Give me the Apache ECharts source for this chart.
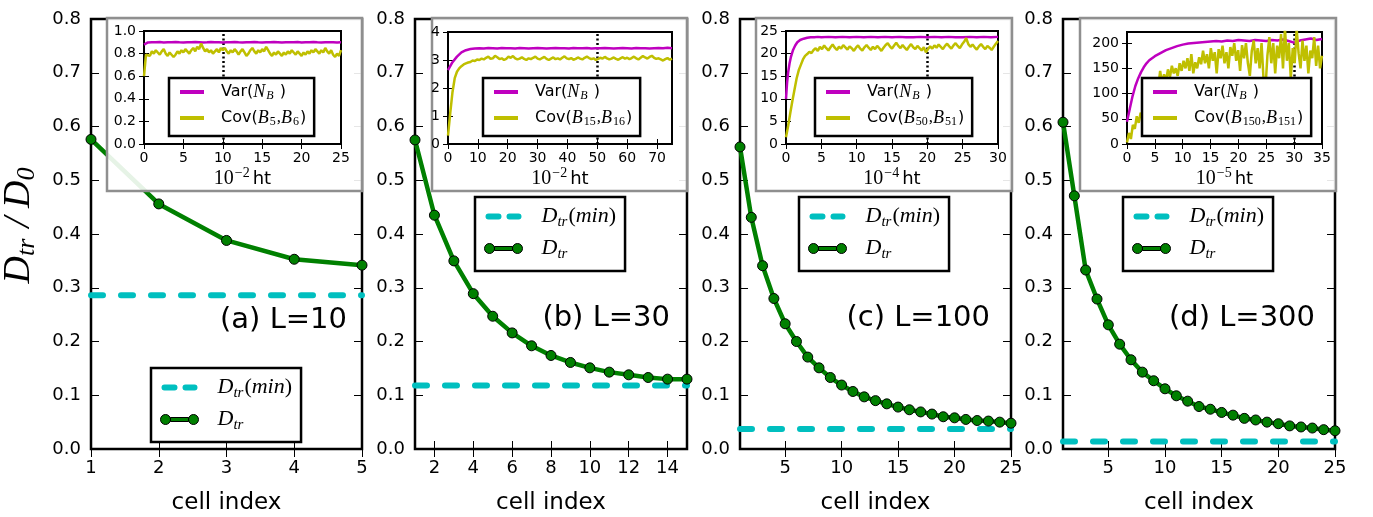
<!DOCTYPE html>
<html>
<head>
<meta charset="utf-8">
<script src="https://cdn.jsdelivr.net/npm/echarts@6/dist/echarts.min.js"></script>
<style>
  html, body { margin: 0; padding: 0; background: #fff; }
  #chart { width: 1373px; height: 517px; }
</style>
</head>
<body>
<div id="chart"></div>
<script>
// ---------- data: transport coefficient per cell ----------
const panelTags = ['(a) L=10', '(b) L=30', '(c) L=100', '(d) L=300'];
const dtrA = [0.576, 0.456, 0.388, 0.353, 0.342];
const dtrB = [0.575, 0.435, 0.350, 0.289, 0.247, 0.216, 0.192, 0.174, 0.161, 0.151, 0.143, 0.138, 0.133, 0.130, 0.130];
const dtrC = [0.562, 0.431, 0.341, 0.280, 0.233, 0.200, 0.171, 0.151, 0.133, 0.119, 0.107, 0.097, 0.090, 0.084, 0.078,
              0.073, 0.069, 0.065, 0.060, 0.058, 0.055, 0.053, 0.052, 0.050, 0.048];
const dtrD = [0.608, 0.471, 0.333, 0.279, 0.231, 0.195, 0.166, 0.143, 0.127, 0.112, 0.099, 0.089, 0.079, 0.074, 0.068,
              0.063, 0.057, 0.054, 0.050, 0.047, 0.043, 0.041, 0.039, 0.036, 0.034];
const dtrMin = [0.286, 0.118, 0.037, 0.014];
const cellMax = [5, 15, 25, 25];
const cellTicks = [[1, 2, 3, 4, 5], [2, 4, 6, 8, 10, 12, 14], [5, 10, 15, 20, 25], [5, 10, 15, 20, 25]];
const dTicks = [0, 0.1, 0.2, 0.3, 0.4, 0.5, 0.6, 0.7, 0.8];

// ---------- data: inset time series ----------
const timeMax = [25, 75, 30, 35];
const timeTicks = [[0, 5, 10, 15, 20, 25], [0, 10, 20, 30, 40, 50, 60, 70], [0, 5, 10, 15, 20, 25, 30], [0, 5, 10, 15, 20, 25, 30, 35]];
const timeExp = ['\u22122', '\u22122', '\u22124', '\u22125'];
const insetMax = [1.0, 4, 25, 222];
const insetTicks = [[0, 0.2, 0.4, 0.6, 0.8, 1.0], [0, 1, 2, 3, 4], [0, 5, 10, 15, 20, 25], [0, 50, 100, 150, 200]];
const markTime = [10, 50, 20, 30];
const covNames = ['Cov(B_5,B_6)', 'Cov(B_15,B_16)', 'Cov(B_50,B_51)', 'Cov(B_150,B_151)'];

// Var(N_B), panel a: sampled every 0.5
const varStepA = 0.5;
const varA = [0.880, 0.899, 0.901, 0.900, 0.902, 0.899, 0.901, 0.900, 0.902, 0.900,
              0.899, 0.901, 0.900, 0.902, 0.901, 0.899, 0.900, 0.902, 0.900, 0.901,
              0.899, 0.900, 0.901, 0.902, 0.900, 0.899, 0.901, 0.900, 0.902, 0.900,
              0.899, 0.901, 0.900, 0.902, 0.901, 0.899, 0.900, 0.901, 0.900, 0.902,
              0.899, 0.901, 0.900, 0.902, 0.900, 0.899, 0.901, 0.900, 0.901, 0.899,
              0.900];
// Cov, panel a: sampled every 0.25
const covStepA = 0.25;
const covA = [0.60, 0.79, 0.80, 0.78, 0.82, 0.80, 0.83, 0.81, 0.79, 0.82,
              0.84, 0.80, 0.78, 0.81, 0.80, 0.77, 0.79, 0.82, 0.80, 0.83,
              0.81, 0.84, 0.82, 0.80, 0.83, 0.85, 0.82, 0.86, 0.84, 0.89,
              0.85, 0.82, 0.84, 0.81, 0.83, 0.80, 0.82, 0.84, 0.81, 0.85,
              0.83, 0.85, 0.82, 0.80, 0.83, 0.81, 0.84, 0.82, 0.79, 0.82,
              0.84, 0.81, 0.78, 0.80, 0.83, 0.85, 0.82, 0.80, 0.83, 0.81,
              0.84, 0.82, 0.86, 0.83, 0.80, 0.78, 0.81, 0.79, 0.82, 0.80,
              0.78, 0.81, 0.79, 0.82, 0.80, 0.83, 0.81, 0.79, 0.82, 0.80,
              0.78, 0.81, 0.79, 0.82, 0.80, 0.83, 0.81, 0.84, 0.82, 0.80,
              0.83, 0.81, 0.85, 0.82, 0.80, 0.83, 0.79, 0.77, 0.80, 0.78,
              0.83];

// panel b
const varStepB = 1.5;
const varB = [2.64, 2.92, 3.12, 3.27, 3.35, 3.39, 3.41, 3.42, 3.41, 3.43,
              3.42, 3.41, 3.43, 3.42, 3.42, 3.41, 3.43, 3.42, 3.41, 3.42,
              3.43, 3.42, 3.41, 3.42, 3.43, 3.42, 3.42, 3.41, 3.43, 3.42,
              3.42, 3.43, 3.41, 3.42, 3.42, 3.43, 3.42, 3.41, 3.42, 3.43,
              3.42, 3.41, 3.43, 3.42, 3.42, 3.41, 3.42, 3.43, 3.42, 3.44,
              3.42];
const covStepB = 0.75;
const covB = [0.30, 1.10, 1.85, 2.35, 2.58, 2.70, 2.78, 2.84, 2.88, 2.91,
              2.93, 2.98, 2.96, 3.02, 3.00, 3.05, 3.02, 3.08, 3.12, 3.04,
              3.06, 3.15, 3.10, 3.03, 3.06, 3.00, 3.04, 3.12, 3.08, 3.14,
              3.06, 3.02, 3.05, 3.10, 3.04, 3.00, 3.06, 3.03, 3.08, 3.12,
              3.05, 3.02, 3.07, 3.11, 3.04, 3.00, 3.05, 3.09, 3.03, 3.06,
              3.02, 3.08, 3.13, 3.06, 3.03, 3.07, 3.01, 3.04, 3.09, 3.05,
              3.02, 3.08, 3.12, 3.07, 3.03, 3.06, 3.00, 3.04, 3.08, 3.05,
              3.11, 3.06, 3.02, 3.05, 3.09, 3.04, 3.01, 3.06, 3.10, 3.05,
              3.08, 3.03, 3.07, 3.12, 3.06, 3.02, 3.08, 3.14, 3.09, 3.05,
              3.11, 3.15, 3.08, 3.04, 3.06, 3.02, 2.98, 3.03, 3.07, 3.01,
              3.05];

// panel c
const varTimeC = [0, 0.15, 0.3, 0.5, 0.7, 1.0, 1.3, 1.6, 2.0, 2.5, 3, 3.5, 4, 4.5, 5,
                  6, 7, 8, 9, 10, 11, 12, 13, 14, 15, 16, 17, 18, 19, 20, 21, 22, 23, 24, 25, 26, 27, 28, 29, 30];
const varC = [10, 13.5, 15.8, 17.8, 19.3, 20.8, 21.8, 22.5, 23.0, 23.3, 23.5, 23.6, 23.6, 23.7, 23.6,
              23.7, 23.6, 23.7, 23.6, 23.7, 23.6, 23.7, 23.6, 23.7, 23.6, 23.7, 23.6, 23.6, 23.7, 23.6,
              23.7, 23.6, 23.7, 23.6, 23.6, 23.7, 23.6, 23.7, 23.6, 23.7];
const covStepC = 0.3;
const covC = [1.5, 4.0, 6.8, 9.5, 12.0, 14.5, 16.3, 17.5, 18.7, 19.5,
              19.9, 20.4, 20.1, 20.8, 21.2, 20.6, 21.5, 21.0, 21.8, 21.2,
              20.7, 21.4, 22.0, 21.3, 20.8, 21.5, 21.1, 21.9, 21.4, 20.9,
              21.6, 21.2, 20.6, 21.3, 21.8, 21.1, 20.7, 21.4, 21.9, 21.3,
              20.8, 21.5, 21.0, 21.7, 21.2, 20.6, 21.3, 21.9, 22.3, 21.6,
              21.1, 21.8, 22.4, 21.7, 21.2, 21.9, 21.3, 20.8, 21.5, 22.1,
              21.4, 21.0, 21.7, 21.2, 20.7, 21.4, 20.3, 21.0, 21.6, 21.1,
              21.8, 21.3, 22.0, 21.5, 21.0, 21.7, 22.2, 21.6, 21.1, 21.8,
              22.3, 21.7, 21.2, 22.0, 22.6, 23.4, 22.1, 21.5, 22.0, 21.4,
              20.9, 21.6, 22.1, 21.5, 21.0, 21.7, 21.3, 20.8, 21.5, 22.2,
              22.8];

// panel d
const varTimeD = [0, 0.5, 1, 1.5, 2, 2.5, 3, 3.5, 4,
                  5, 6, 7, 8, 9, 10, 11, 12, 13, 14, 15, 16, 17, 18, 19, 20,
                  21, 22, 23, 24, 25, 26, 27, 28, 29, 30, 31, 32, 33, 34, 35];
const varD = [44, 70, 95, 115, 130, 142, 152, 160, 166,
              174, 180, 186, 190, 194, 197, 199, 200, 201, 202, 203, 204, 203, 205, 204, 206,
              205, 204, 206, 205, 204, 206, 205, 207, 204, 201, 205, 207, 209, 206, 208];
const covStepD = 0.35;
const covD = [3, 22, 10, 38, 30, 55, 42, 62, 50, 75,
              68, 95, 82, 110, 98, 130, 112, 145, 120, 138,
              125, 148, 132, 155, 140, 150, 135, 160, 145, 165,
              150, 170, 145, 178, 140, 162, 150, 172, 158, 185,
              160, 178, 150, 190, 165, 182, 140, 188, 170, 195,
              160, 182, 150, 192, 175, 200, 165, 186, 145, 196,
              170, 200, 160, 135, 185, 205, 160, 190, 150, 200,
              130, 110, 175, 212, 160, 200, 140, 195, 170, 218,
              150, 230, 165, 200, 130, 190, 160, 228, 180, 150,
              205, 165, 195, 140, 185, 170, 212, 155, 195, 150,
              175];

// ---------- layout ----------
const mainTop = 19, mainHeight = 430;
const mainLeft = [91, 415, 740, 1063];
const mainWidth = [271, 272, 271, 272];
const insetRect = [[144, 31, 197, 113], [448, 32, 224, 112], [786, 31, 212, 113], [1127, 32, 195, 112]];
const boxRect = [[107, 18, 255, 173], [432, 18, 255, 173], [756, 18, 256, 173], [1080, 18, 256, 173]];
const mainLegendPos = [[151, 368], [475, 197], [799, 197], [1123, 197]];
const insetLegendPos = [[169, 78], [483, 78], [815, 78], [1142, 78]];
const tagPos = [[347, 320], [670, 318], [990, 318], [1315, 318]];

const GREEN = '#008000', CYAN = '#00bfbf', MAGENTA = '#bf00bf', YELLOW = '#bfbf00';
const SERIF = 'Liberation Serif', SANS = 'DejaVu Sans';

const dtrAll = [dtrA, dtrB, dtrC, dtrD];
const varPts = [
  varA.map((v, i) => [i * varStepA, v]),
  varB.map((v, i) => [i * varStepB, v]),
  varC.map((v, i) => [varTimeC[i], v]),
  varD.map((v, i) => [varTimeD[i], v])
];
const covPts = [
  covA.map((v, i) => [i * covStepA, v]),
  covB.map((v, i) => [i * covStepB, v]),
  covC.map((v, i) => [i * covStepC, v]),
  covD.map((v, i) => [i * covStepD, v])
];

// rich-text versions of the legend entries
const mathRich = {
  sp: { width: 12 },
  t: { fontFamily: SANS, fontSize: 16, lineHeight: 20, color: '#000' },
  mi: { fontFamily: SERIF, fontStyle: 'italic', fontSize: 18, lineHeight: 20, color: '#000' },
  sb: { fontFamily: SERIF, fontStyle: 'italic', fontSize: 12, lineHeight: 12, padding: [8, 1, 0, 1], color: '#000' },
  sn: { fontFamily: SERIF, fontSize: 12, lineHeight: 12, padding: [8, 1, 0, 1], color: '#000' },
  cm: { fontFamily: SERIF, fontSize: 17, lineHeight: 20, color: '#000' },
  big: { fontFamily: SERIF, fontStyle: 'italic', fontSize: 22, lineHeight: 26, color: '#000' },
  bsub: { fontFamily: SERIF, fontStyle: 'italic', fontSize: 15, lineHeight: 14, padding: [12, 1, 0, 0], color: '#000' },
  bup: { fontFamily: SERIF, fontSize: 22, lineHeight: 26, color: '#000' },
  sp2: { width: 14 }
};
function covLabel(name) {
  const m = name.match(/Cov\(B_(\d+),B_(\d+)\)/);
  return '{sp| }{t|Cov(}{mi|B}{sn|' + m[1] + '}{cm|,}{mi|B}{sn|' + m[2] + '}{t|)}';
}
function legendText(name) {
  if (name === 'Var(N_B)') return '{sp| }{t|Var(}{mi|N}{sb|B}{t| )}';
  if (name.indexOf('Cov') === 0) return covLabel(name);
  if (name === 'D_tr(min)') return '{sp2| }{big|D}{bsub|tr}{bup|(}{big|min}{bup|)}';
  if (name === 'D_tr') return '{sp2| }{big|D}{bsub|tr}';
  return name;
}

const dashIcon = 'path://M0,0L0.5,0L0.5,0.01Z M38,10L37.5,10L37.5,9.99Z ' +
  'M4,2h10a3,3 0 0 1 0,6h-10a3,3 0 0 1 0,-6z M25,2h9a3,3 0 0 1 0,6h-9a3,3 0 0 1 0,-6z';
const dotIcon = 'path://M0,5a5,5 0 1 0 10,0a5,5 0 1 0 -10,0z M28,5a5,5 0 1 0 10,0a5,5 0 1 0 -10,0z M10,3h18v4h-18z';

const grids = [], xAxes = [], yAxes = [], series = [], legends = [], graphics = [];

for (let p = 0; p < 4; p++) {
  // main panel
  grids.push({ left: mainLeft[p], top: mainTop, width: mainWidth[p], height: mainHeight,
    outerBoundsMode: 'none', containLabel: false,
    show: true, borderColor: '#000', borderWidth: 2.5, backgroundColor: 'transparent', z: 0 });
  // inset panel
  const r = insetRect[p];
  grids.push({ left: r[0], top: r[1], width: r[2], height: r[3],
    outerBoundsMode: 'none', containLabel: false,
    show: true, borderColor: '#000', borderWidth: 2, backgroundColor: 'transparent', z: 6 });

  const gm = 2 * p, gi = 2 * p + 1;
  const mainTick = { show: true, inside: true, length: 8, lineStyle: { color: '#000', width: 1 } };
  const insetTick = { show: true, inside: true, length: 5, lineStyle: { color: '#000', width: 1 } };

  // main x (bottom, top)
  xAxes.push({ type: 'value', gridIndex: gm, min: 1, max: cellMax[p], position: 'bottom',
    axisLine: { show: false }, splitLine: { show: false },
    axisTick: Object.assign({ customValues: cellTicks[p] }, mainTick),
    axisLabel: { customValues: cellTicks[p], fontSize: 18, color: '#000', margin: 10, fontFamily: SANS },
    name: 'cell index', nameLocation: 'middle', nameGap: 43,
    nameTextStyle: { fontSize: 23, color: '#000', fontFamily: SANS } });
  xAxes.push({ type: 'value', gridIndex: gm, min: 1, max: cellMax[p], position: 'top',
    axisLine: { show: false }, splitLine: { show: false },
    axisTick: Object.assign({ customValues: cellTicks[p] }, mainTick),
    axisLabel: { show: false } });
  // inset x (bottom, top)
  xAxes.push({ type: 'value', gridIndex: gi, min: 0, max: timeMax[p], position: 'bottom', z: 6,
    axisLine: { show: false }, splitLine: { show: false },
    axisTick: Object.assign({ customValues: timeTicks[p] }, insetTick),
    axisLabel: { customValues: timeTicks[p], fontSize: 14, color: '#000', margin: 7, fontFamily: SANS },
    name: '{m|10}{sup|' + timeExp[p] + '}{t|ht}', nameLocation: 'middle', nameGap: 24,
    nameTextStyle: { rich: {
      m: { fontFamily: SERIF, fontSize: 20, lineHeight: 22, color: '#000' },
      sup: { fontFamily: SERIF, fontSize: 14, lineHeight: 13, padding: [0, 3, 11, 1], color: '#000' },
      t: { fontFamily: SANS, fontSize: 18, lineHeight: 22, color: '#000' } } } });
  xAxes.push({ type: 'value', gridIndex: gi, min: 0, max: timeMax[p], position: 'top', z: 6,
    axisLine: { show: false }, splitLine: { show: false },
    axisTick: Object.assign({ customValues: timeTicks[p] }, insetTick),
    axisLabel: { show: false } });

  // main y (left, right)
  const yMain = { type: 'value', gridIndex: gm, min: 0, max: 0.8, position: 'left',
    axisLine: { show: false }, splitLine: { show: false },
    axisTick: Object.assign({ customValues: dTicks }, mainTick),
    axisLabel: { customValues: dTicks, fontSize: 18, color: '#000', margin: 10, fontFamily: SANS,
      formatter: v => v.toFixed(1) } };
  if (p === 0) {
    yMain.name = '{g| }{d|D}{s|tr}{sl|/}{d|D}{s|0}';
    yMain.nameLocation = 'middle';
    yMain.nameRotate = 90;
    yMain.nameGap = 52;
    yMain.nameTextStyle = { rich: {
      g: { width: 22 },
      d: { fontFamily: SERIF, fontStyle: 'italic', fontSize: 38, lineHeight: 40, color: '#000' },
      s: { fontFamily: SERIF, fontStyle: 'italic', fontSize: 26, lineHeight: 24, padding: [17, 5, 0, 0], color: '#000' },
      sl: { fontFamily: SERIF, fontStyle: 'italic', fontSize: 38, lineHeight: 40, padding: [0, 9, 0, 6], color: '#000' } } };
  }
  yAxes.push(yMain);
  yAxes.push({ type: 'value', gridIndex: gm, min: 0, max: 0.8, position: 'right',
    axisLine: { show: false }, splitLine: { show: false },
    axisTick: Object.assign({ customValues: dTicks }, mainTick),
    axisLabel: { show: false } });
  // inset y (left, right)
  yAxes.push({ type: 'value', gridIndex: gi, min: 0, max: insetMax[p], position: 'left', z: 6,
    axisLine: { show: false }, splitLine: { show: false },
    axisTick: Object.assign({ customValues: insetTicks[p] }, insetTick),
    axisLabel: { customValues: insetTicks[p], fontSize: 14, color: '#000', margin: 8, fontFamily: SANS,
      formatter: p === 0 ? (v => v.toFixed(1)) : (v => String(v)) } });
  yAxes.push({ type: 'value', gridIndex: gi, min: 0, max: insetMax[p], position: 'right', z: 6,
    axisLine: { show: false }, splitLine: { show: false },
    axisTick: Object.assign({ customValues: insetTicks[p] }, insetTick),
    axisLabel: { show: false } });

  const ax = 4 * p;
  // lower bound of the transport coefficient
  series.push({ type: 'line', name: 'D_tr(min)', xAxisIndex: ax, yAxisIndex: ax,
    data: [[1, dtrMin[p]], [cellMax[p], dtrMin[p]]], symbol: 'none', z: 2,
    color: CYAN,
    lineStyle: { color: CYAN, width: 6, type: [12, 18], cap: 'round' } });
  // per-cell transport coefficient
  series.push({ type: 'line', name: 'D_tr', xAxisIndex: ax, yAxisIndex: ax,
    data: dtrAll[p].map((v, i) => [i + 1, v]), symbol: 'circle', symbolSize: 10,
    showSymbol: true, showAllSymbol: true, z: 3, color: GREEN,
    lineStyle: { color: GREEN, width: 4.5 },
    itemStyle: { color: GREEN, borderColor: '#000', borderWidth: 1 } });
  // inset: variance and covariance of bond counts
  series.push({ type: 'line', name: 'Var(N_B)', xAxisIndex: ax + 2, yAxisIndex: ax + 2,
    data: varPts[p], symbol: 'none', z: 7, color: MAGENTA,
    lineStyle: { color: MAGENTA, width: 2.5 } });
  series.push({ type: 'line', name: covNames[p], xAxisIndex: ax + 2, yAxisIndex: ax + 2,
    data: covPts[p], symbol: 'none', z: 8, color: YELLOW,
    lineStyle: { color: YELLOW, width: 2.5 },
    markLine: { silent: true, symbol: ['none', 'none'], label: { show: false },
      lineStyle: { color: '#000', type: [2, 2.5], width: 2.5 },
      data: [{ xAxis: markTime[p] }] } });

  // legends
  legends.push({ orient: 'vertical', left: mainLegendPos[p][0], top: mainLegendPos[p][1], z: 20,
    selectedMode: false, itemWidth: 38, itemHeight: 10, itemGap: 5, padding: [6, 9, 9, 9],
    borderColor: '#000', borderWidth: 2.5, backgroundColor: '#fff',
    data: [{ name: 'D_tr(min)', icon: dashIcon, itemStyle: { color: CYAN, borderWidth: 0 } },
           { name: 'D_tr', icon: dotIcon, itemStyle: { color: GREEN, borderColor: '#000', borderWidth: 1 } }],
    formatter: legendText, textStyle: { rich: mathRich } });
  legends.push({ orient: 'vertical', left: insetLegendPos[p][0], top: insetLegendPos[p][1], z: 20,
    selectedMode: false, itemWidth: 24, itemHeight: 4, itemGap: 6, padding: [4, 8, 8, 11],
    borderColor: '#000', borderWidth: 2.5, backgroundColor: '#fff', icon: 'rect',
    data: [{ name: 'Var(N_B)', itemStyle: { color: MAGENTA, borderWidth: 0 } },
           { name: covNames[p], itemStyle: { color: YELLOW, borderWidth: 0 } }],
    formatter: legendText, textStyle: { rich: mathRich } });

  // translucent frame behind each inset
  const b = boxRect[p];
  graphics.push({ type: 'rect', silent: true, z: 5,
    shape: { x: b[0], y: b[1], width: b[2], height: b[3] },
    style: { fill: 'rgba(255,255,255,0.9)', stroke: '#8f8f8f', lineWidth: 2.5 } });
  // panel tag
  graphics.push({ type: 'text', silent: true, z: 20, x: tagPos[p][0], y: tagPos[p][1],
    style: { text: panelTags[p], fill: '#000', fontSize: 29, fontFamily: SANS,
      align: 'right', verticalAlign: 'middle' } });
}

const chart = echarts.init(document.getElementById('chart'), null, { renderer: 'canvas' });
chart.setOption({
  animation: false,
  backgroundColor: '#fff',
  textStyle: { fontFamily: SANS, color: '#000' },
  grid: grids,
  xAxis: xAxes,
  yAxis: yAxes,
  legend: legends,
  series: series,
  graphic: { elements: graphics }
});
</script>
</body>
</html>
